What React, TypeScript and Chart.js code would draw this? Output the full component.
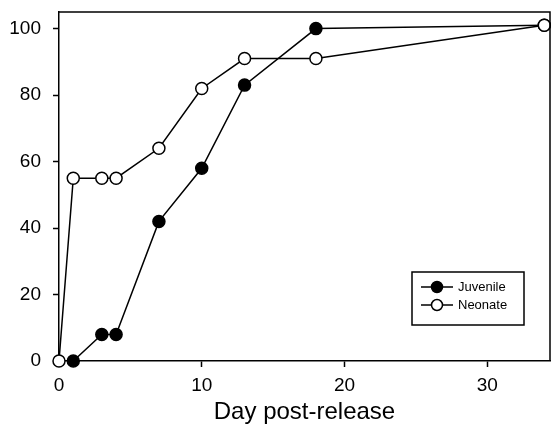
import React, { useEffect, useRef } from "react";
import { Chart, registerables } from "chart.js";

Chart.register(...registerables);

const juvenileDays = [1, 3, 4, 7, 10, 13, 18, 34];
const juvenileValues = [0, 8, 8, 42, 58, 83, 100, 101];
const neonateDays = [0, 1, 3, 4, 7, 10, 13, 18, 34];
const neonateValues = [0, 55, 55, 55, 64, 82, 91, 91, 101];
const xTickValues = [0, 10, 20, 30];
const yTickValues = [0, 20, 40, 60, 80, 100];
const xTitle = "Day post-release";
const legendLabels = ["Juvenile", "Neonate"];

const FONT = "'Liberation Sans', Arial, sans-serif";

const frameAndLegend = {
  id: "frameAndLegend",
  afterDatasetsDraw(chart: any) {
    const { ctx, chartArea } = chart;
    ctx.save();
    ctx.strokeStyle = "#000";
    ctx.lineWidth = 1.5;
    ctx.beginPath();
    ctx.moveTo(chartArea.left, chartArea.top);
    ctx.lineTo(chartArea.right, chartArea.top);
    ctx.lineTo(chartArea.right, chartArea.bottom);
    ctx.stroke();

    // legend box
    const bw = 112;
    const bh = 53;
    const bx = chartArea.right - 26 - bw;
    const by = chartArea.top + 260;
    ctx.lineWidth = 1.5;
    ctx.strokeRect(bx, by, bw, bh);
    const items = [
      { label: legendLabels[0], fill: "#000" },
      { label: legendLabels[1], fill: "#fff" },
    ];
    items.forEach((it, i) => {
      const cy = by + 15 + i * 18;
      ctx.lineWidth = 1.5;
      ctx.strokeStyle = "#000";
      ctx.beginPath();
      ctx.moveTo(bx + 9, cy);
      ctx.lineTo(bx + 41, cy);
      ctx.stroke();
      ctx.beginPath();
      ctx.arc(bx + 25, cy, 5.5, 0, Math.PI * 2);
      ctx.fillStyle = it.fill;
      ctx.fill();
      ctx.stroke();
      ctx.fillStyle = "#000";
      ctx.font = `13px ${FONT}`;
      ctx.textBaseline = "middle";
      ctx.textAlign = "left";
      ctx.fillText(it.label, bx + 46, cy);
    });
    ctx.restore();
  },
};

export default function App() {
  const ref = useRef<HTMLCanvasElement | null>(null);

  useEffect(() => {
    document.body.style.margin = "0";
    const canvas = ref.current;
    if (!canvas) return;
    const chart = new Chart(canvas, {
      type: "line",
      data: {
        datasets: [
          {
            label: legendLabels[0],
            data: juvenileDays.map((d, i) => ({ x: d, y: juvenileValues[i] })),
            borderColor: "#000",
            backgroundColor: "#000",
            borderWidth: 1.5,
            pointRadius: 6,
            pointBorderWidth: 1.5,
            pointBorderColor: "#000",
            pointBackgroundColor: "#000",
            tension: 0,
            clip: false,
            order: 1,
          },
          {
            label: legendLabels[1],
            data: neonateDays.map((d, i) => ({ x: d, y: neonateValues[i] })),
            borderColor: "#000",
            backgroundColor: "#fff",
            borderWidth: 1.5,
            pointRadius: 6,
            pointBorderWidth: 1.5,
            pointBorderColor: "#000",
            pointBackgroundColor: "#fff",
            tension: 0,
            clip: false,
            order: 0,
          },
        ],
      },
      options: {
        responsive: false,
        animation: false,
        layout: { autoPadding: false, padding: { top: 12, right: 4, left: 0, bottom: 0 } },
        plugins: {
          legend: { display: false },
          tooltip: { enabled: false },
        },
        scales: {
          x: {
            type: "linear",
            min: 0,
            max: 34.4,
            afterBuildTicks: (scale: any) => {
              scale.ticks = xTickValues.map((v) => ({ value: v }));
            },
            afterFit: (scale: any) => {
              scale.height = 77;
              scale.paddingLeft = 0;
              scale.paddingRight = 0;
            },
            grid: {
              drawOnChartArea: false,
              drawTicks: true,
              tickLength: 6,
              tickColor: "#000",
              tickWidth: 1.5,
            },
            border: { display: true, color: "#000", width: 1.5 },
            ticks: {
              color: "#000",
              font: { family: FONT, size: 19 },
              padding: 7,
              maxRotation: 0,
            },
            title: {
              display: true,
              text: xTitle,
              color: "#000",
              font: { family: FONT, size: 24 },
              padding: { top: 4, bottom: 11 },
            },
          },
          y: {
            type: "linear",
            min: 0,
            max: 105,
            afterBuildTicks: (scale: any) => {
              scale.ticks = yTickValues.map((v) => ({ value: v }));
            },
            afterFit: (scale: any) => {
              scale.width = 59;
              scale.paddingTop = 0;
              scale.paddingBottom = 0;
            },
            grid: {
              drawOnChartArea: false,
              drawTicks: true,
              tickLength: 6,
              tickColor: "#000",
              tickWidth: 1.5,
            },
            border: { display: true, color: "#000", width: 1.5 },
            ticks: {
              color: "#000",
              font: { family: FONT, size: 19 },
              padding: 12,
            },
          },
        },
      },
      plugins: [frameAndLegend],
    });
    return () => chart.destroy();
  }, []);

  return (
    <div style={{ position: "absolute", left: 0, top: 0, width: 554, height: 438, background: "#fff" }}>
      <canvas ref={ref} width={554} height={438} />
    </div>
  );
}
